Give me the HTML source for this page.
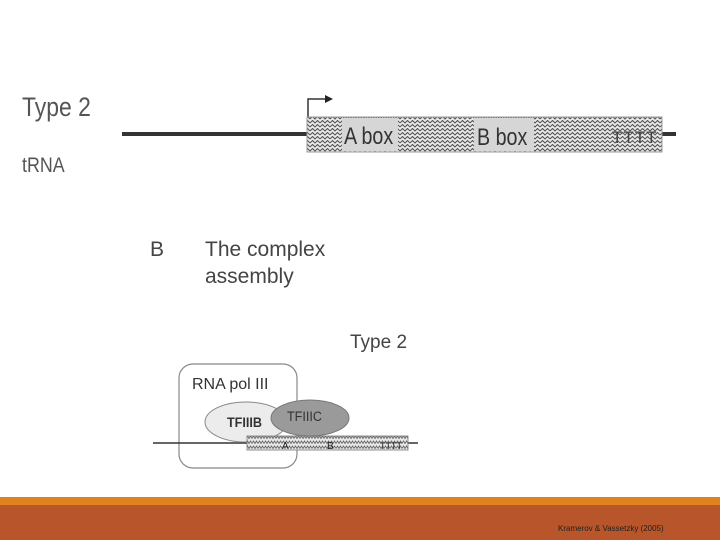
<!DOCTYPE html>
<html><head><meta charset="utf-8"><style>
html,body{margin:0;padding:0;background:#fff;}
svg{display:block}
text{font-family:"Liberation Sans",sans-serif;}
</style></head><body>
<svg width="720" height="540" viewBox="0 0 720 540" xmlns="http://www.w3.org/2000/svg">
<defs>
<pattern id="zz" width="10" height="8" patternUnits="userSpaceOnUse">
<rect width="10" height="8" fill="#eaeaea"/>
<path d="M0 3 L2.5 0.5 L5 3 L7.5 0.5 L10 3 M0 7 L2.5 4.5 L5 7 L7.5 4.5 L10 7" fill="none" stroke="#555" stroke-width="1.1"/>
</pattern>
<pattern id="zz2" width="6" height="5" patternUnits="userSpaceOnUse">
<rect width="6" height="5" fill="#e8e8e8"/>
<path d="M0 3.5 L1.5 1 L3 3.5 L4.5 1 L6 3.5" fill="none" stroke="#666" stroke-width="0.9"/>
</pattern>
</defs>
<rect width="720" height="540" fill="#fff"/>
<!-- Top diagram -->
<text x="22" y="116" font-size="27" fill="#555" transform="scale(0.85,1)" transform-origin="22 116">Type 2</text>
<text x="22" y="172" font-size="21" fill="#555" transform="scale(0.85,1)" transform-origin="22 172">tRNA</text>
<line x1="122" y1="134" x2="308" y2="134" stroke="#333" stroke-width="4"/>
<line x1="660" y1="134" x2="676" y2="134" stroke="#333" stroke-width="4"/>
<polyline points="308,118 308,99 326,99" fill="none" stroke="#333" stroke-width="1.5"/>
<polygon points="325,95 333,99 325,103" fill="#222"/>
<rect x="307" y="117" width="355" height="35" fill="url(#zz)" stroke="#999" stroke-width="1"/>
<rect x="342" y="118" width="56" height="33" fill="#d6d6d6"/>
<rect x="474" y="118" width="60" height="33" fill="#d6d6d6"/>
<text x="344" y="144" font-size="24" fill="#333" transform="scale(0.82,1)" transform-origin="344 144">A box</text>
<text x="477" y="145" font-size="24" fill="#333" transform="scale(0.82,1)" transform-origin="477 145">B box</text>
<text x="612" y="143" font-size="17" fill="#444" letter-spacing="1">TTTT</text>
<!-- B title -->
<text x="150" y="256" font-size="21" fill="#444">B</text>
<text x="205" y="256" font-size="21" fill="#444">The complex</text>
<text x="205" y="283" font-size="21" fill="#444">assembly</text>
<text x="350" y="348" font-size="19" fill="#444">Type 2</text>
<!-- lower diagram -->
<rect x="179" y="364" width="118" height="104" rx="14" fill="none" stroke="#888" stroke-width="1.2"/>
<text x="192" y="389" font-size="16" fill="#333">RNA pol III</text>
<line x1="153" y1="443" x2="418" y2="443" stroke="#333" stroke-width="1.5"/>
<ellipse cx="246" cy="422" rx="41" ry="20" fill="#ececec" stroke="#888"/>
<text x="227" y="427" font-size="14" font-weight="bold" fill="#333" transform="scale(0.9,1)" transform-origin="227 427">TFIIIB</text>
<rect x="247" y="436" width="161" height="14" fill="url(#zz2)" stroke="#777" stroke-width="0.8"/>
<ellipse cx="310" cy="418" rx="39" ry="18" fill="#9a9a9a" stroke="#777"/>
<text x="287" y="421" font-size="14" fill="#333" transform="scale(0.9,1)" transform-origin="287 421">TFIIIC</text>
<text x="282" y="449" font-size="10" fill="#222">A</text>
<text x="327" y="449" font-size="10" fill="#222">B</text>
<text x="380" y="449" font-size="9" fill="#222">TTTT</text>
<!-- footer -->
<rect x="0" y="497" width="720" height="8" fill="#e0821f"/>
<rect x="0" y="505" width="720" height="35" fill="#b9552a"/>
<text x="558" y="531" font-size="8" fill="#222">Kramerov &amp; Vassetzky (2005)</text>
</svg>
</body></html>
